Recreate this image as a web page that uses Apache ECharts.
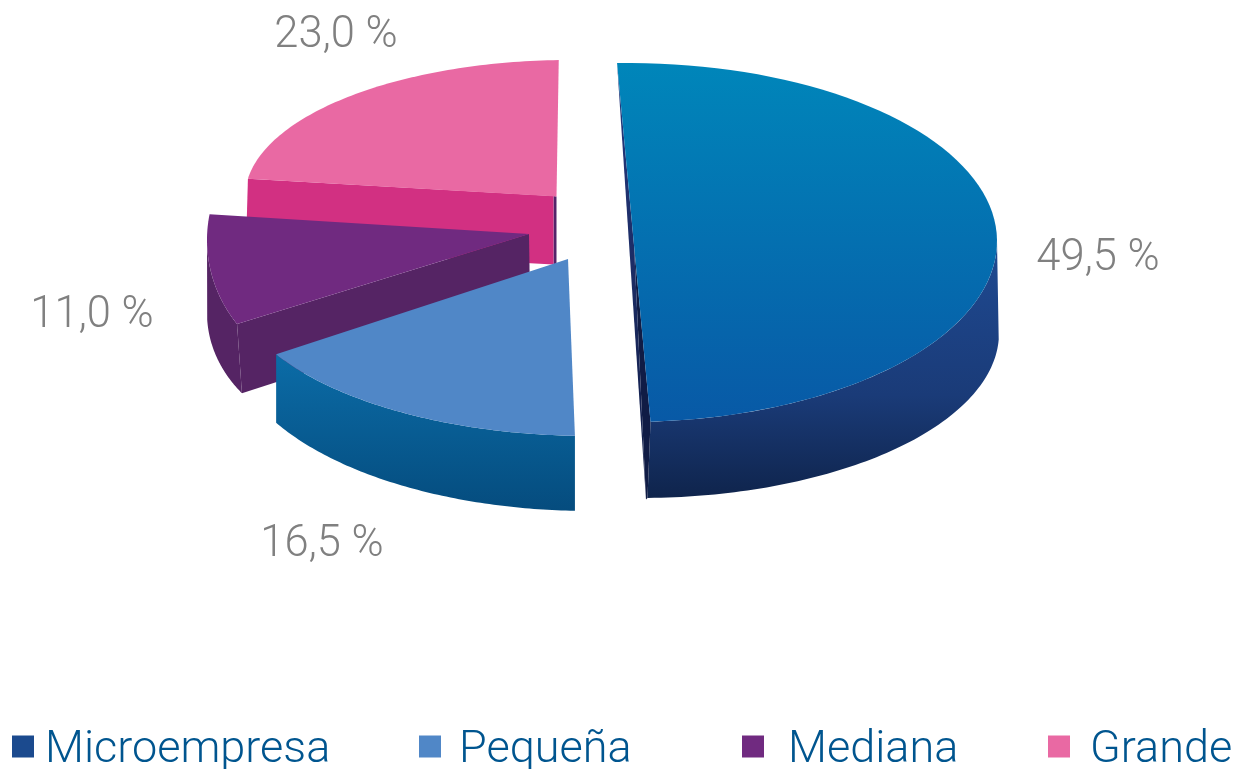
<!DOCTYPE html>
<html>
<head>
<meta charset="utf-8">
<style>html,body{margin:0;padding:0;background:#fff}#chart{width:1245px;height:769px}</style>
<script src="https://cdn.jsdelivr.net/npm/echarts@6/dist/echarts.min.js"></script>
</head>
<body>
<div id="chart"></div>
<script>
const categories = ['Microempresa', 'Pequeña', 'Mediana', 'Grande'];
const shares = [49.5, 16.5, 11.0, 23.0];
const legendColors = ['#1b4a8e', '#5087c7', '#702a80', '#e969a3'];

const stops = list => ({ type: 'linear', x: 0, y: 0, x2: 0, y2: 1, colorStops: list.map(([offset, color]) => ({ offset, color })) });

// Projection of each exploded wedge: ellipses of its top and bottom rims, start angle and foreshortening of its sweep.
const wedges = {
  Microempresa: { z: 4, apex: [634, 245], start: -91.7, scale: 1,
    top: { cx: 628, cy: 241, rx: 369, ryB: 178, ry: 181 }, bot: { cx: 640, cy: 333, rx: 359, ry: 165 }, shift: 2.3,
    topFill: stops([[0, '#0086ba'], [1, '#0859a6']]), wallFill: stops([[0, '#1f4a92'], [0.6, '#1a3b78'], [1, '#0f244c']]),
    faces: { apexB: [646, 499.5], fold: true, a: stops([[0, '#263a80'], [1, '#101c45']]), b: '#101c45' },
    label: [1098, 259] },
  'Pequeña': { z: 3, apex: [568, 259], start: 92.4, scale: 0.981,
    top: { cx: 590, cy: 276, rx: 360, ryB: 160, ry: 160 }, bot: { cx: 590, cy: 338, rx: 360, ry: 173 }, shift: 0,
    topFill: '#5087c7', wallFill: stops([[0, '#0b6ca7'], [1, '#054c7e']]),
    label: [322, 545] },
  Mediana: { z: 2, apex: [529, 234], start: 143.1, scale: 1.2,
    top: { cx: 357, cy: 240, rx: 150, ryB: 140, ry: 140 }, bot: { cx: 357, cy: 313, rx: 150, ry: 125 }, shift: -3,
    topFill: '#702a80', wallFill: '#552464',
    faces: { apexB: [530, 300], a: '#552464' },
    label: [92, 316] },
  Grande: { z: 1, apex: [556.5, 196.5], start: 187.7, scale: 0.97,
    top: { cx: 570, cy: 197, rx: 325, ryB: 137, ry: 137 }, bot: { cx: 570, cy: 266, rx: 327, ry: 137 }, shift: 0,
    topFill: '#e969a3', wallFill: '#d23082',
    faces: { apexA: [553.5, 196], apexB: [553.5, 264.5], apexBE: [556.5, 265], a: '#d23082', b: '#54246a', sliver: true },
    label: [336, 36] }
};

const rad = d => d * Math.PI / 180;
function rim(e, deg) {
  const s = Math.sin(rad(deg));
  return [e.cx + e.rx * Math.cos(rad(deg)), e.cy + (s < 0 ? e.ryB || e.ry : e.ry) * s];
}
function arc(e, from, to, shift) {
  const out = [], n = 80;
  for (let i = 0; i <= n; i++) out.push(rim(e, from + (to - from) * i / n + (shift || 0)));
  return out;
}
const poly = (points, fill) => ({ type: 'polygon', silent: true, shape: { points }, style: { fill } });
const fmt = v => v.toFixed(1).replace('.', ',') + ' %';

function renderWedge(name) {
  return function (params, api) {
    const w = wedges[name], value = api.value(0);
    const a0 = w.start, a1 = a0 + value / 100 * 360 * w.scale;
    const children = [];
    const wa = Math.max(a0, 0), wb = Math.min(a1, 180);
    if (wb > wa) {
      children.push(poly(arc(w.top, wa, wb).concat(arc(w.bot, wb, wa, w.shift)), w.wallFill));
    }
    const f = w.faces;
    if (f) {
      const ts = rim(w.top, a0), te = rim(w.top, a1), inner = f.apexA || w.apex;
      if (f.b) {
        children.push(poly(f.sliver ? [w.apex, f.apexBE, f.apexB, inner]
          : [w.apex, te, rim(w.bot, a1 + w.shift), f.apexB], f.b));
      }
      children.push(poly(f.fold ? [ts, inner, f.apexB] : [ts, inner, f.apexB, rim(w.bot, a0 + w.shift)], f.a));
    }
    children.push(poly([w.apex].concat(arc(w.top, a0, a1)), w.topFill));
    children.push({
      type: 'text', silent: true, x: w.label[0], y: w.label[1],
      style: { text: fmt(value), fill: '#808080', font: '300 43.5px Roboto', textAlign: 'center', textVerticalAlign: 'middle' }
    });
    return { type: 'group', children };
  };
}

const legendLeft = [7, 414, 737, 1043];
const legendPad = [6, 13, 19, 15];
const squareIcon = 'path://M0 0H22V22H0ZM0 30L0 30';

const option = {
  animation: false,
  backgroundColor: '#fff',
  legend: categories.map((name, i) => ({
    left: legendLeft[i], top: 723, orient: 'horizontal', selectedMode: false,
    itemWidth: 22, itemHeight: 30,
    data: [{ name, icon: squareIcon, itemStyle: { color: legendColors[i] } }],
    textStyle: { color: '#00558f', fontFamily: 'Roboto', fontWeight: 300, fontSize: 45, padding: [0, 0, 0, legendPad[i]] }
  })),
  series: categories.map((name, i) => ({
    type: 'custom', name, coordinateSystem: 'none', z: wedges[name].z,
    itemStyle: { color: legendColors[i] },
    data: [[shares[i]]],
    renderItem: renderWedge(name)
  }))
};
echarts.init(document.getElementById('chart'), null, { renderer: 'canvas' }).setOption(option);
</script>
</body>
</html>
